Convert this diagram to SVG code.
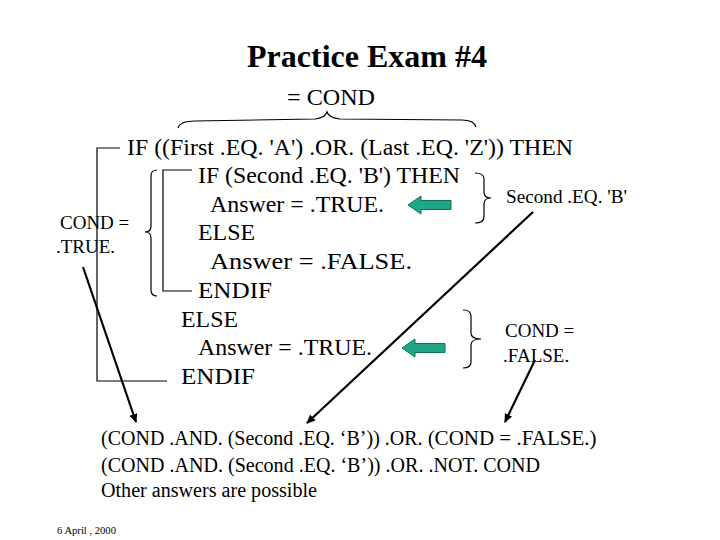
<svg xmlns="http://www.w3.org/2000/svg" width="720" height="540" viewBox="0 0 720 540" font-family="Liberation Serif, Times New Roman, serif">
<defs>
<style>
text{font-family:'Liberation Serif','Times New Roman',serif;fill:#000}
.title{font-size:32px;font-weight:bold}
.code{font-size:24px}
.lbl{font-size:19px}
.bot{font-size:20px}
.date{font-size:10.5px}
.br{fill:none;stroke:#000;stroke-width:1.2}
.ln{fill:none;stroke:#000;stroke-width:2.2}
.garrow{fill:#1fa587;stroke:#0f6e5c;stroke-width:1}
</style>
<marker id="ah" markerWidth="10" markerHeight="8" refX="8" refY="4" orient="auto" markerUnits="userSpaceOnUse">
<path d="M0,0 L9,4 L0,8 Z" fill="#000"/>
</marker>
</defs>
<rect width="720" height="540" fill="#fff"/>

<g id="title"><text class="title" x="247" y="67" textLength="240" lengthAdjust="spacingAndGlyphs">Practice Exam #4</text></g>

<g id="cond-top">
<text class="code" x="287" y="105" textLength="88" lengthAdjust="spacingAndGlyphs">= COND</text>
<path class="br" d="M178,128 Q180,121 195,121 L315,119 Q325,118 327,112 Q329,118 340,119 L462,120 Q474,120 476,127"/>
</g>

<g id="code">
<text class="code" x="127" y="155" textLength="446" lengthAdjust="spacingAndGlyphs">IF ((First .EQ. 'A') .OR. (Last .EQ. 'Z')) THEN</text>
<text class="code" x="198" y="183" textLength="262" lengthAdjust="spacingAndGlyphs">IF (Second .EQ. 'B') THEN</text>
<text class="code" x="210" y="212" textLength="174" lengthAdjust="spacingAndGlyphs">Answer = .TRUE.</text>
<text class="code" x="198" y="240" textLength="57" lengthAdjust="spacingAndGlyphs">ELSE</text>
<text class="code" x="210" y="269" textLength="202" lengthAdjust="spacingAndGlyphs">Answer = .FALSE.</text>
<text class="code" x="198" y="298" textLength="74" lengthAdjust="spacingAndGlyphs">ENDIF</text>
<text class="code" x="181" y="327" textLength="57" lengthAdjust="spacingAndGlyphs">ELSE</text>
<text class="code" x="198" y="355" textLength="174" lengthAdjust="spacingAndGlyphs">Answer = .TRUE.</text>
<text class="code" x="181" y="384" textLength="74" lengthAdjust="spacingAndGlyphs">ENDIF</text>
</g>

<g id="brackets">
<path class="br" d="M120,148 H97 V381 H167"/>
<path class="br" d="M192,170 H163 V291 H192"/>
<path class="br" d="M157,170 Q151,170 151,176 V226 Q151,232 145,232 Q151,232 151,238 V290 Q151,296 157,296"/>
<path class="br" d="M475,173 Q484,173 484,179 V192 Q484,198 491,198 Q484,198 484,204 V217 Q484,223 475,223"/>
<path class="br" d="M463,310 Q471,310 471,316 V333 Q471,339 481,339 Q471,339 471,345 V362 Q471,368 463,368"/>
</g>

<g id="label-left">
<text class="lbl" x="60" y="229">COND =</text>
<text class="lbl" x="56" y="253">.TRUE.</text>
</g>
<g id="label-second">
<text class="lbl" x="506" y="203" textLength="121" lengthAdjust="spacingAndGlyphs">Second .EQ. 'B'</text>
</g>
<g id="label-false">
<text class="lbl" x="505" y="337">COND =</text>
<text class="lbl" x="503" y="362">.FALSE.</text>
</g>

<g id="green-arrows">
<path class="garrow" d="M408,205 L421,196 L421,200.5 L451,200.5 L451,209.5 L421,209.5 L421,214 Z"/>
<path class="garrow" d="M402,348 L415,339 L415,343.5 L445,343.5 L445,352.5 L415,352.5 L415,357 Z"/>
</g>

<g id="connectors">
<line class="ln" x1="83" y1="267" x2="136" y2="422" marker-end="url(#ah)"/>
<line class="ln" x1="533" y1="212" x2="307" y2="423" marker-end="url(#ah)"/>
<line class="ln" x1="535" y1="360" x2="505" y2="422" marker-end="url(#ah)"/>
</g>

<g id="answers">
<text class="bot" x="101" y="445">(COND .AND. (Second .EQ. ‘B’)) .OR. <tspan font-size="21">(COND = .FALSE.)</tspan></text>
<text class="bot" x="101" y="472" textLength="439" lengthAdjust="spacingAndGlyphs">(COND .AND. (Second .EQ. ‘B’)) .OR. .NOT. COND</text>
<text class="bot" x="101" y="497" textLength="216" lengthAdjust="spacingAndGlyphs">Other answers are possible</text>
</g>

<g id="date"><text class="date" x="57" y="534" textLength="59" lengthAdjust="spacingAndGlyphs">6 April , 2000</text></g>
</svg>
